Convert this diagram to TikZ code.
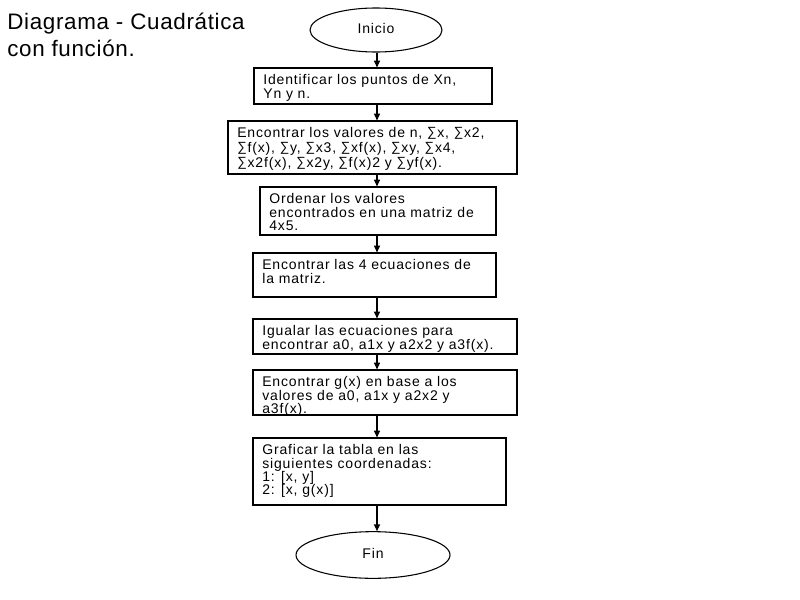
\documentclass[tikz,border=0pt]{standalone}
\usepackage{fontspec}
\usepackage{graphicx}
\setmainfont{Liberation Sans}
\usetikzlibrary{shapes.geometric,arrows.meta}
\newfontfamily\boxfont[LetterSpace=6]{Liberation Sans}
\newfontfamily\titlefont[LetterSpace=3]{Liberation Sans}
\newcommand{\btext}[3]{\parbox[c][#2][t]{#1}{\raggedright\rule{0pt}{12.5pt}#3}}
\newcommand{\sumch}{\raisebox{0.6pt}{\scalebox{0.95}{∑}}\hspace{0.6pt}}
\tikzset{
  stepbox/.style={draw, line width=0.9pt, inner xsep=7pt, inner ysep=0pt, font=\boxfont\fontsize{10.5}{10}\selectfont},
  term/.style={draw, ellipse, line width=0.8pt, inner sep=0pt, font=\boxfont\fontsize{10.5}{10}\selectfont},
  arr/.style={line width=0.8pt, -{Triangle[length=5pt,width=4.5pt]}},
}
\begin{document}
\begin{tikzpicture}[x=0.75pt, y=-0.75pt]
\fill[white] (0,0) rectangle (800,600);
\useasboundingbox (0,0) rectangle (800,600);

\node[anchor=north west, align=left, inner sep=0pt, font=\titlefont\fontsize{16.8}{20.25}\selectfont] (title) at (7,13) {Diagrama - Cuadrática\\con función.};

\coordinate (sp) at (377,0);

\node[term, minimum width=99pt, minimum height=33pt] (ini) at (376,30) {\raisebox{3pt}{Inicio}};

\node[stepbox] (b1) at (373,86) {\btext{164.5pt}{27pt}{Identificar los puntos de Xn,\\Yn y n.}};
\node[stepbox, font=\boxfont\fontsize{10.5}{11}\selectfont] (b2) at (372.5,147.5) {\btext{202.75pt}{39.75pt}{Encontrar los valores de n, \sumch x, \sumch x2,\\\sumch f(x), \sumch y, \sumch x3, \sumch xf(x), \sumch xy, \sumch x4,\\\sumch x2f(x), \sumch x2y, \sumch f(x)2 y \sumch yf(x).}};
\node[stepbox] (b3) at (378,211) {\btext{163pt}{36pt}{Ordenar los valores\\encontrados en una matriz de\\4x5.}};
\node[stepbox] (b4) at (374.5,275) {\btext{168.25pt}{33pt}{Encontrar las 4 ecuaciones de\\la matriz.}};
\node[stepbox] (b5) at (385,336.5) {\btext{184pt}{26.25pt}{Igualar las ecuaciones para\\encontrar a0, a1x y a2x2 y a3f(x).}};
\node[stepbox] (b6) at (385,392.5) {\btext{184pt}{33.75pt}{Encontrar g(x) en base a los\\valores de a0, a1x y a2x2 y\\a3f(x).}};
\node[stepbox] (b7) at (379.5,471.5) {\btext{175.75pt}{50.25pt}{Graficar la tabla en las\\siguientes coordenadas:\\1: [x, y]\\2: [x, g(x)]}};

\node[term, minimum width=115.5pt, minimum height=35pt] (fin) at (373,555) {\raisebox{3pt}{Fin}};

\draw[arr] (ini.south -| sp) -- (b1.north -| sp);
\draw[arr] (b1.south -| sp) -- (b2.north -| sp);
\draw[arr] (b2.south -| sp) -- (b3.north -| sp);
\draw[arr] (b3.south -| sp) -- (b4.north -| sp);
\draw[arr] (b4.south -| sp) -- (b5.north -| sp);
\draw[arr] (b5.south -| sp) -- (b6.north -| sp);
\draw[arr] (b6.south -| sp) -- (b7.north -| sp);
\draw[arr] (b7.south -| sp) -- (fin.north -| sp);
\end{tikzpicture}
\end{document}
